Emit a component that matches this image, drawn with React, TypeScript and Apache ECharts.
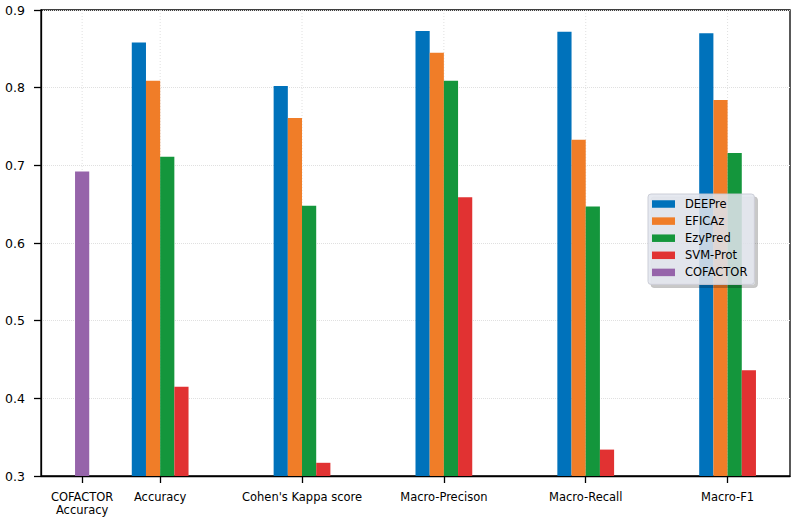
import React, { useEffect, useRef } from "react";
import * as echarts from "echarts";

const categories = ["COFACTOR\nAccuracy", "Accuracy", "Cohen's Kappa score", "Macro-Precison", "Macro-Recall", "Macro-F1"];
const tickPositions = [0.45, 1, 2, 3, 4, 5];
const metricPositions = [1, 2, 3, 4, 5];
const seriesNames = ["DEEPre", "EFICAz", "EzyPred", "SVM-Prot", "COFACTOR"];
const deepre = [0.858, 0.802, 0.873, 0.872, 0.870];
const eficaz = [0.809, 0.761, 0.845, 0.733, 0.784];
const ezypred = [0.711, 0.648, 0.809, 0.647, 0.716];
const svmprot = [0.415, 0.317, 0.659, 0.334, 0.436];
const cofactorPositions = [0.45];
const cofactor = [0.692];
const barOffsets = [-0.15, -0.05, 0.05, 0.15];
const colors = ["#0072bb", "#f07d28", "#14963c", "#e13232", "#9664aa"];
const yTicks = [0.3, 0.4, 0.5, 0.6, 0.7, 0.8, 0.9];
const yMin = 0.3;
const yMax = 0.9;

export default function App() {
  const ref = useRef<HTMLDivElement>(null);
  useEffect(() => {
    if (!ref.current) return;
    const chart = echarts.init(ref.current, null, { renderer: "svg" });
    const groups = [deepre, eficaz, ezypred, svmprot];
    const series: any[] = groups.map((vals, i) => ({
      type: "bar",
      name: seriesNames[i],
      data: vals.map((v, j) => [metricPositions[j] + barOffsets[i], v]),
      barWidth: 14.2,
      barGap: "-100%",
      itemStyle: { color: colors[i] },
      z: 2,
    }));
    series.push({
      type: "bar",
      name: seriesNames[4],
      data: cofactor.map((v, j) => [cofactorPositions[j], v]),
      barWidth: 14.2,
      barGap: "-100%",
      itemStyle: { color: colors[4] },
      z: 2,
    });
    series.push({
      type: "custom",
      name: "vgrid",
      silent: true,
      z: 0,
      data: tickPositions.map((p) => [p]),
      renderItem: (params: any, api: any) => {
        const x = api.value(0);
        const p1 = api.coord([x, yMax]);
        const p2 = api.coord([x, yMin]);
        return {
          type: "line",
          shape: { x1: p1[0], y1: p1[1], x2: p2[0], y2: p2[1] },
          style: { stroke: "#e0e0e0", lineWidth: 1, lineDash: [1, 2] },
        };
      },
    });
    chart.setOption({
      animation: false,
      textStyle: { fontFamily: "DejaVu Sans" },
      grid: {
        left: 41,
        right: 7,
        top: 10,
        bottom: 46,
        show: true,
        borderColor: "#000",
        borderWidth: 1.3,
        backgroundColor: "transparent",
      },
      legend: {
        data: seriesNames,
        orient: "vertical",
        left: 648,
        top: 194,
        padding: [3, 7, 5, 4],
        itemWidth: 23,
        itemHeight: 7.5,
        itemGap: 3.1,
        icon: "rect",
        backgroundColor: "rgba(226,229,237,0.85)",
        borderColor: "rgba(200,202,212,0.9)",
        borderWidth: 1,
        borderRadius: 3,
        shadowColor: "rgba(0,0,0,0.25)",
        shadowOffsetX: 3,
        shadowOffsetY: 3,
        shadowBlur: 1,
        textStyle: {
          fontSize: 11.5,
          color: "#000",
          lineHeight: 14,
          padding: [0, 0, 0, 5],
          fontFamily: "DejaVu Sans",
        },
      },
      xAxis: {
        type: "value",
        min: 0.16,
        max: 5.44,
        axisLine: { show: true, lineStyle: { color: "#000", width: 1.3 } },
        axisTick: {
          show: true,
          customValues: tickPositions,
          length: 7,
          lineStyle: { color: "#000", width: 1.3 },
        },
        axisLabel: {
          customValues: tickPositions,
          margin: 14.5,
          fontSize: 11.5,
          lineHeight: 13,
          color: "#000",
          fontFamily: "DejaVu Sans",
          formatter: (v: number) => {
            const idx = tickPositions.findIndex((p) => Math.abs(p - v) < 1e-6);
            return idx >= 0 ? categories[idx] : "";
          },
        },
        splitLine: { show: false },
      },
      yAxis: {
        type: "value",
        min: yMin,
        max: yMax,
        interval: 0.1,
        axisLine: { show: true, lineStyle: { color: "#000", width: 1.3 } },
        axisTick: { show: true, length: 7, lineStyle: { color: "#000", width: 1.3 } },
        axisLabel: {
          margin: 16,
          fontSize: 12.5,
          color: "#000",
          fontFamily: "DejaVu Sans",
          formatter: (v: number) => {
            const t = yTicks.find((y) => Math.abs(y - v) < 1e-6);
            return (t !== undefined ? t : v).toFixed(1);
          },
        },
        splitLine: { show: true, lineStyle: { color: "#e0e0e0", type: "dotted", width: 1 } },
      },
      series,
    });
    return () => chart.dispose();
  }, []);
  return (
    <div
      ref={ref}
      style={{ position: "absolute", left: 0, top: 0, width: 797, height: 522 }}
    />
  );
}
